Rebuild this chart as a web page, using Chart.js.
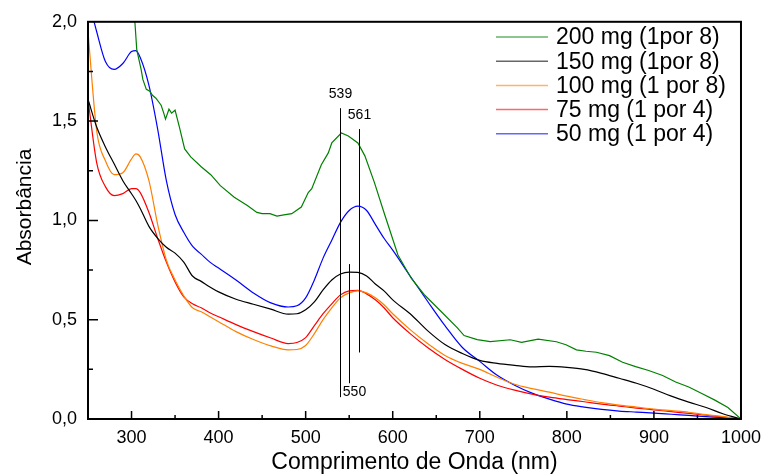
<!DOCTYPE html>
<html>
<head>
<meta charset="utf-8">
<script src="https://cdn.jsdelivr.net/npm/chart.js@4"></script>
<style>
  body { margin: 0; background: #fff; }
</style>
</head>
<body>
<canvas id="myChart" width="769" height="476"></canvas>
<script>
// wavelength grid (nm) shared by the smooth curves
const wavelength = [250, 260, 270, 280, 290, 300, 305, 310, 320, 330, 340, 350, 360, 370, 380, 390, 400,
  420, 440, 460, 480, 490, 500, 510, 520, 530, 540, 550, 560, 570, 580, 590, 600,
  620, 640, 660, 680, 700, 720, 740, 760, 780, 800, 820, 840, 860, 880, 900, 920, 940, 960, 980, 1000];

const abs150 = [1.61, 1.47, 1.37, 1.285, 1.20, 1.134, 1.10, 1.06, 0.97, 0.91, 0.865, 0.835, 0.79, 0.72, 0.693, 0.665, 0.64,
  0.603, 0.578, 0.553, 0.528, 0.53, 0.55, 0.59, 0.65, 0.70, 0.73, 0.74, 0.738, 0.72, 0.68, 0.645, 0.60,
  0.53, 0.445, 0.375, 0.33, 0.295, 0.28, 0.27, 0.262, 0.265, 0.26, 0.25, 0.23, 0.205, 0.18, 0.15, 0.115, 0.085, 0.058, 0.025, 0];

const abs100 = [1.95, 1.45, 1.30, 1.23, 1.24, 1.31, 1.335, 1.32, 1.20, 0.98, 0.80, 0.70, 0.62, 0.56, 0.54, 0.515, 0.49,
  0.44, 0.40, 0.368, 0.348, 0.35, 0.37, 0.43, 0.50, 0.56, 0.61, 0.635, 0.645, 0.635, 0.61, 0.575, 0.53,
  0.45, 0.38, 0.32, 0.28, 0.25, 0.21, 0.175, 0.153, 0.135, 0.115, 0.098, 0.082, 0.07, 0.06, 0.05, 0.042, 0.034, 0.022, 0.012, 0];

const abs75 = [1.61, 1.29, 1.17, 1.125, 1.135, 1.16, 1.16, 1.14, 1.04, 0.91, 0.79, 0.69, 0.615, 0.58, 0.56, 0.535, 0.515,
  0.475, 0.44, 0.408, 0.38, 0.385, 0.41, 0.47, 0.53, 0.58, 0.625, 0.645, 0.648, 0.63, 0.60, 0.56, 0.51,
  0.43, 0.36, 0.30, 0.25, 0.205, 0.17, 0.145, 0.125, 0.11, 0.098, 0.087, 0.075, 0.065, 0.055, 0.046, 0.037, 0.028, 0.019, 0.01, 0];

const abs50 = [2.12, 1.95, 1.80, 1.76, 1.79, 1.85, 1.855, 1.82, 1.68, 1.46, 1.20, 1.03, 0.94, 0.87, 0.83, 0.79, 0.76,
  0.70, 0.635, 0.585, 0.564, 0.57, 0.61, 0.70, 0.81, 0.90, 0.99, 1.05, 1.072, 1.05, 0.98, 0.91, 0.85,
  0.72, 0.593, 0.47, 0.36, 0.29, 0.22, 0.17, 0.13, 0.10, 0.075, 0.06, 0.048, 0.04, 0.035, 0.03, 0.024, 0.018, 0.012, 0.007, 0];

// the 200 mg curve is noisy, so it gets its own points
const nm200 = [300, 304, 306, 308, 311, 313, 317, 321, 324, 328, 334, 337, 339, 343, 346, 350, 355, 361, 368, 380, 391,
  402, 418, 433, 444, 450, 459, 467, 475, 484, 495, 503, 507, 518, 526, 530, 541, 549, 560, 568, 579, 591,
  606, 621, 636, 655, 674, 682, 697, 712, 735, 748, 767, 788, 799, 811, 822, 834, 849, 864, 879, 894, 910,
  925, 940, 955, 970, 985, 1000];
const abs200 = [2.12, 1.99, 1.86, 1.82, 1.76, 1.71, 1.66, 1.65, 1.63, 1.615, 1.58, 1.54, 1.51, 1.56, 1.54, 1.555, 1.47, 1.36, 1.32, 1.27, 1.23,
  1.175, 1.117, 1.075, 1.04, 1.034, 1.034, 1.022, 1.028, 1.034, 1.067, 1.14, 1.16, 1.28, 1.34, 1.39, 1.44, 1.425, 1.39, 1.325, 1.19, 1.026,
  0.826, 0.71, 0.627, 0.544, 0.46, 0.42, 0.40, 0.39, 0.399, 0.386, 0.402, 0.389, 0.374, 0.348, 0.341, 0.336, 0.319, 0.286, 0.264, 0.244, 0.219,
  0.186, 0.161, 0.128, 0.095, 0.058, 0];

const seriesLabels = ['200 mg (1por 8)', '150 mg (1por 8)', '100 mg (1 por 8)', '75 mg (1 por 4)', '50 mg (1 por 4)'];

// tick labels
const xTicks = [300, 400, 500, 600, 700, 800, 900, 1000];
const yTicks = [0, 0.5, 1.0, 1.5, 2.0];

// peak markers (nm, top and bottom of the line in absorbance)
const peakNm = [539, 550, 561];
const peakTop = [1.565, 0.78, 1.46];
const peakBottom = [0.11, 0.18, 0.335];

const colors = ['#008000', '#000000', '#ff8000', '#ff0000', '#0000ff'];
const FONT = "'Liberation Sans', Arial, sans-serif";
Chart.defaults.font.family = FONT;
Chart.defaults.color = '#000';

function toPoints(xs, ys) {
  return xs.map((x, i) => ({ x: x, y: ys[i] }));
}

// frame, inward ticks, y title, legend and peak markers
const extras = {
  id: 'extras',
  afterDraw(chart) {
    const c = chart.ctx;
    const a = chart.chartArea;
    const xs = chart.scales.x;
    const ys = chart.scales.y;
    c.save();

    // peak lines
    c.strokeStyle = '#000';
    c.lineWidth = 1;
    c.font = '14px ' + FONT;
    c.fillStyle = '#000';
    c.textAlign = 'center';
    c.textBaseline = 'middle';
    for (let i = 0; i < peakNm.length; i++) {
      const px = Math.round(xs.getPixelForValue(peakNm[i])) + 0.5;
      const t = ys.getPixelForValue(peakTop[i]);
      const b = ys.getPixelForValue(peakBottom[i]);
      c.beginPath();
      c.moveTo(px, t);
      c.lineTo(px, b);
      c.stroke();
      if (peakNm[i] === 550) {
        c.fillText(String(peakNm[i]), px + 5, b + 9);
      } else {
        c.fillText(String(peakNm[i]), px, t - 14);
      }
    }

    // frame
    c.lineWidth = 2;
    c.strokeStyle = '#000';
    c.strokeRect(a.left, a.top, a.right - a.left, a.bottom - a.top);

    // ticks pointing inwards
    c.lineWidth = 1.5;
    c.beginPath();
    for (let v = 300; v <= 1000; v += 50) {
      const px = xs.getPixelForValue(v);
      const len = v % 100 === 0 ? 8 : 4;
      c.moveTo(px, a.bottom);
      c.lineTo(px, a.bottom - len);
    }
    for (let v = 0.25; v < 2; v += 0.25) {
      const py = ys.getPixelForValue(v);
      const len = Math.abs(v * 2 - Math.round(v * 2)) < 0.01 ? 10 : 5;
      c.moveTo(a.left, py);
      c.lineTo(a.left + len, py);
    }
    c.stroke();

    // y axis title, sits a bit above the middle like the original
    c.save();
    c.translate(25, 207);
    c.rotate(-Math.PI / 2);
    c.font = '21px ' + FONT;
    c.textAlign = 'center';
    c.textBaseline = 'middle';
    c.fillStyle = '#000';
    c.fillText('Absorbância', 0, 0);
    c.restore();

    // legend
    c.font = '23px ' + FONT;
    c.textAlign = 'left';
    c.textBaseline = 'middle';
    chart.data.datasets.forEach((ds, i) => {
      const y = 37 + i * 24.2;
      c.strokeStyle = ds.borderColor;
      c.globalAlpha = 0.6;
      c.lineWidth = 1.5;
      c.beginPath();
      c.moveTo(496, y);
      c.lineTo(548, y);
      c.stroke();
      c.globalAlpha = 1;
      c.fillStyle = '#000';
      c.fillText(ds.label, 556, y + 1);
    });
    c.restore();
  }
};

const ctx = document.getElementById('myChart');
const myChart = new Chart(ctx, {
  type: 'line',
  data: {
    datasets: [
      { label: seriesLabels[0], data: toPoints(nm200, abs200), borderColor: colors[0], tension: 0 },
      { label: seriesLabels[1], data: toPoints(wavelength, abs150), borderColor: colors[1], cubicInterpolationMode: 'monotone' },
      { label: seriesLabels[2], data: toPoints(wavelength, abs100), borderColor: colors[2], cubicInterpolationMode: 'monotone' },
      { label: seriesLabels[3], data: toPoints(wavelength, abs75), borderColor: colors[3], cubicInterpolationMode: 'monotone' },
      { label: seriesLabels[4], data: toPoints(wavelength, abs50), borderColor: colors[4], cubicInterpolationMode: 'monotone' }
    ]
  },
  options: {
    responsive: false,
    animation: false,
    layout: { padding: { top: 20, right: 23, bottom: 0, left: 0 } },
    elements: {
      point: { radius: 0 },
      line: { borderWidth: 1.2, fill: false }
    },
    plugins: {
      legend: { display: false },
      tooltip: { enabled: false }
    },
    scales: {
      x: {
        type: 'linear',
        min: 250,
        max: 1000,
        afterBuildTicks: (scale) => { scale.ticks = xTicks.map(v => ({ value: v })); },
        afterFit: (scale) => { scale.height = 57; },
        grid: { display: false, drawTicks: false },
        border: { display: false },
        ticks: {
          font: { size: 18 }, color: '#000', padding: 8, maxRotation: 0, autoSkip: false,
          callback: (v) => String(v)
        },
        title: { display: true, text: 'Comprimento de Onda (nm)', font: { size: 23 }, color: '#000', padding: { top: 0, bottom: 0 } }
      },
      y: {
        min: 0,
        max: 2,
        afterBuildTicks: (scale) => { scale.ticks = yTicks.map(v => ({ value: v })); },
        afterFit: (scale) => { scale.width = 88; },
        grid: { display: false, drawTicks: false },
        border: { display: false },
        ticks: {
          font: { size: 18 }, color: '#000', padding: 11,
          callback: (v) => v.toFixed(1).replace('.', ',')
        },
        title: { display: false }
      }
    }
  },
  plugins: [extras]
});
</script>
</body>
</html>
